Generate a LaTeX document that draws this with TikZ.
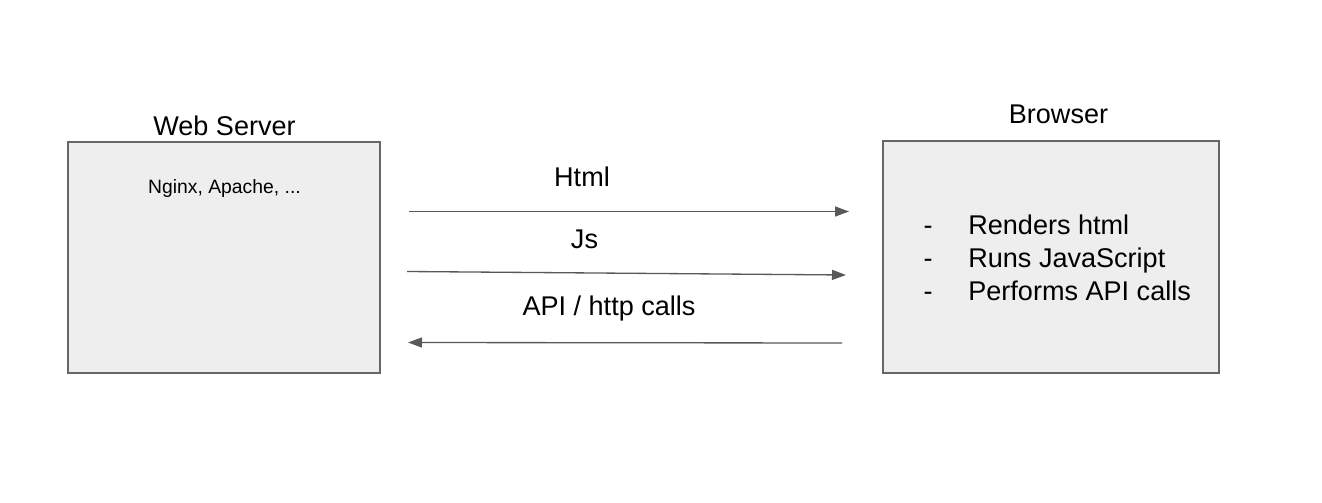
\documentclass[tikz,border=0pt]{standalone}
\usepackage{fontspec}
\setmainfont{Liberation Sans}
\usetikzlibrary{arrows.meta}
\definecolor{boxfill}{HTML}{EEEEEE}
\definecolor{boxline}{HTML}{666666}
\definecolor{arrowline}{HTML}{595959}
\tikzset{
  box/.style={draw=boxline, fill=boxfill, line width=0.7pt, inner sep=0pt},
  bigtext/.style={font=\fontsize{15.4}{18}\selectfont, inner sep=0pt, anchor=base},
  smalltext/.style={font=\fontsize{11}{13}\selectfont, inner sep=0pt, anchor=base},
  flow/.style={draw=arrowline, line width=0.75pt, -{Triangle[length=0.28cm, width=0.2cm]}}
}
\begin{document}
\begin{tikzpicture}[x=0.02cm, y=-0.02cm]
\useasboundingbox (0,0) rectangle (1322,503);
% boxes
\node (server) [box, minimum width=6.24cm, minimum height=4.62cm] at (224,257.5) {};
\node (browser) [box, minimum width=6.72cm, minimum height=4.64cm] at (1051,257) {};
% titles
\node (servertitle) [bigtext] at (224.5,136) {Web Server};
\node (browsertitle) [bigtext] at (1058.5,124) {Browser};
\node (serverinfo) [smalltext] at (224.5,194) {Nginx, Apache, ...};
% browser list
\node (dasha) [bigtext] at (928,235) {-};
\node (dashb) [bigtext] at (928,267.5) {-};
\node (dashc) [bigtext] at (928,300) {-};
\node (itema) [bigtext, anchor=base west] at (968,235) {Renders html};
\node (itemb) [bigtext, anchor=base west] at (968,267.5) {Runs JavaScript};
\node (itemc) [bigtext, anchor=base west] at (968,300) {Performs API calls};
% arrows
\coordinate (htmlfrom) at (409,211.5);
\coordinate (htmlto) at (849,211.5);
\coordinate (jsfrom) at (407,271.5);
\coordinate (jsto) at (846,275);
\coordinate (apifrom) at (842,343);
\coordinate (apito) at (408,342.5);
\draw[flow] (htmlfrom) -- (htmlto);
\draw[flow] (jsfrom) -- (jsto);
\draw[flow] (apifrom) -- (apito);
\node (htmllabel) [bigtext] at (582,187) {Html};
\node (jslabel) [bigtext] at (584.5,249) {Js};
\node (apilabel) [bigtext] at (609,316) {API / http calls};
\end{tikzpicture}
\end{document}
